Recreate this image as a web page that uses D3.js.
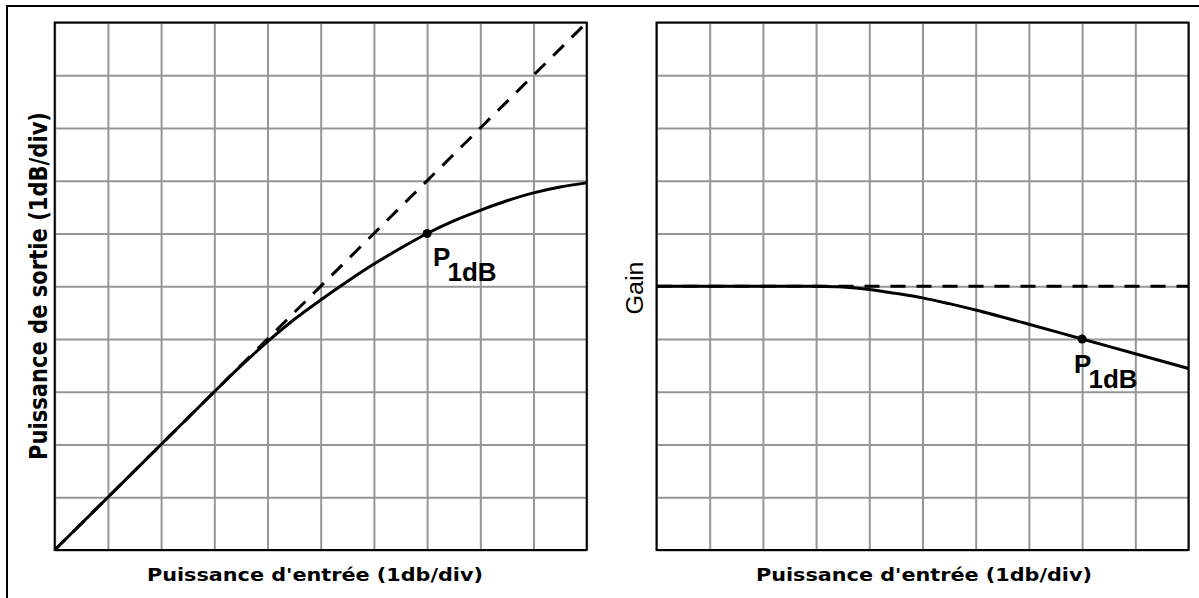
<!DOCTYPE html>
<html>
<head>
<meta charset="utf-8">
<script src="https://cdn.jsdelivr.net/npm/d3@7"></script>
<style>
  body { margin: 0; background: #fff; }
  svg { display: block; }
</style>
</head>
<body>
<div id="vis"></div>
<script>
    // Données (1 div = 1 dB)
    const gridTicks = [0, 1, 2, 3, 4, 5, 6, 7, 8, 9, 10];

    const entreeX = [0, 1, 2, 3, 3.5, 4, 4.5, 5, 5.5, 6, 6.5, 7, 7.5, 8, 8.5, 9, 9.5, 10];
    const sortieY = [0, 1, 2, 3, 3.49, 3.95, 4.37, 4.74, 5.09, 5.42, 5.72, 6.0, 6.24, 6.44, 6.62, 6.77, 6.88, 6.96];
    const lineaireX = [0, 10];
    const lineaireY = [0, 10];

    const gainX = [0, 1, 2, 3, 3.5, 4, 4.5, 5, 5.5, 6, 7, 8, 9, 10];
    const gainY = [5, 5, 5, 5, 4.985, 4.94, 4.865, 4.78, 4.67, 4.55, 4.28, 4.0, 3.72, 3.44];
    const gainRefX = [0, 10];
    const gainRefY = [5, 5];

    const p1dbGauche = [7, 6];
    const p1dbDroite = [8, 4];

    const W = 1199, H = 598;
    const plotTop = 22.5, plotH = 527.5, plotW = 532;

    const svg = d3.select("#vis")
    .append("svg")
        .attr("width", W)
        .attr("height", H)
        .style("background", "#fff");

    // cadre extérieur (coupé à droite et en bas)
    svg.append("rect")
        .attr("x", 7)
        .attr("y", 6)
        .attr("width", 1300)
        .attr("height", 700)
        .attr("fill", "none")
        .attr("stroke", "#000")
        .attr("stroke-width", 2);

    function panneau(left) {
        const g = svg.append("g")
            .attr("transform", "translate(" + left + "," + plotTop + ")");
        const x = d3.scaleLinear().domain([0, 10]).range([0, plotW]);
        const y = d3.scaleLinear().domain([0, 10]).range([plotH, 0]);

        // grille
        g.append("g")
            .attr("class", "grid-x")
            .attr("transform", `translate(0, ${plotH})`)
            .call(d3.axisBottom(x).tickValues(gridTicks).tickSize(-plotH).tickFormat(""));
        g.append("g")
            .attr("class", "grid-y")
            .call(d3.axisLeft(y).tickValues(gridTicks).tickSize(-plotW).tickFormat(""));
        g.selectAll(".grid-x, .grid-y").select(".domain").remove();
        g.selectAll(".grid-x line, .grid-y line")
            .attr("stroke", "#969696")
            .attr("stroke-width", 2);

        g.append("rect")
            .attr("x", x(0))
            .attr("y", y(10))
            .attr("width", x(10) - x(0))
            .attr("height", y(0) - y(10))
            .attr("fill", "none")
            .attr("stroke", "#000")
            .attr("stroke-width", 2);

        return { g, x, y };
    }

    function courbe(p, xs, ys, dashed) {
        const line = d3.line()
            .x(d => p.x(d[0]))
            .y(d => p.y(d[1]))
            .curve(d3.curveCatmullRom);
        p.g.append("path")
            .datum(xs.map((v, i) => [v, ys[i]]))
            .attr("d", line)
            .attr("fill", "none")
            .attr("stroke", "#000")
            .attr("stroke-width", 3)
            .attr("stroke-dasharray", dashed ? "15,11" : null);
    }

    function pointP1dB(p, pt, dx, dy) {
        p.g.append("circle")
            .attr("cx", p.x(pt[0]))
            .attr("cy", p.y(pt[1]))
            .attr("r", 4.5)
            .attr("fill", "#000");
        const t = p.g.append("text")
            .attr("x", p.x(pt[0]) + dx)
            .attr("y", p.y(pt[1]) + dy)
            .style("font-family", "'Liberation Sans', Arial, sans-serif")
            .style("font-weight", "bold")
            .style("font-size", "26px")
            .attr("fill", "#000");
        t.append("tspan").text("P");
        t.append("tspan").attr("dx", -3).attr("dy", 15).text("1dB");
    }

    // ---- panneau gauche : puissance de sortie
    const pg = panneau(54.7);
    courbe(pg, lineaireX, lineaireY, true);
    courbe(pg, entreeX, sortieY, false);
    pointP1dB(pg, p1dbGauche, 6, 32);

    svg.append("text")
        .attr("transform", "translate(47,286) rotate(-90)")
        .attr("text-anchor", "middle")
        .attr("textLength", 348)
        .attr("lengthAdjust", "spacingAndGlyphs")
        .style("font-family", "'DejaVu Sans', sans-serif")
        .style("font-weight", "bold")
        .style("font-size", "24px")
        .text("Puissance de sortie (1dB/div)");

    svg.append("text")
        .attr("x", 315)
        .attr("y", 581)
        .attr("text-anchor", "middle")
        .attr("textLength", 336)
        .attr("lengthAdjust", "spacingAndGlyphs")
        .style("font-family", "'DejaVu Sans', sans-serif")
        .style("font-weight", "bold")
        .style("font-size", "18px")
        .text("Puissance d'entrée (1db/div)");

    // ---- panneau droit : gain
    const pd = panneau(656.5);
    courbe(pd, gainRefX, gainRefY, true);
    courbe(pd, gainX, gainY, false);
    pointP1dB(pd, p1dbDroite, -8, 34);

    svg.append("text")
        .attr("transform", "translate(643,288) rotate(-90)")
        .attr("text-anchor", "middle")
        .attr("textLength", 53)
        .attr("lengthAdjust", "spacingAndGlyphs")
        .style("font-family", "'Liberation Sans', Arial, sans-serif")
        .style("font-size", "23px")
        .text("Gain");

    svg.append("text")
        .attr("x", 924)
        .attr("y", 581)
        .attr("text-anchor", "middle")
        .attr("textLength", 336)
        .attr("lengthAdjust", "spacingAndGlyphs")
        .style("font-family", "'DejaVu Sans', sans-serif")
        .style("font-weight", "bold")
        .style("font-size", "18px")
        .text("Puissance d'entrée (1db/div)");
</script>
</body>
</html>
